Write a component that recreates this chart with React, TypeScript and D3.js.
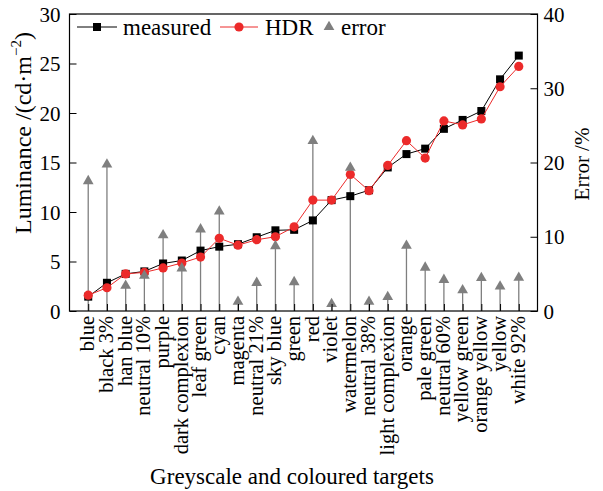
import { useEffect, useRef } from "react";
import * as d3 from "d3";

const categories = [
  "blue", "black 3%", "han blue", "neutral 10%", "purple", "dark complexion",
  "leaf green", "cyan", "magenta", "neutral 21%", "sky blue", "green", "red",
  "violet", "watermelon", "neutral 38%", "light complexion", "orange",
  "pale green", "neutral 60%", "yellow green", "orange yellow", "yellow", "white 92%",
];

const measured = [
  1.45, 2.85, 3.75, 4.0, 4.8, 5.1, 6.1, 6.5, 6.75, 7.45, 8.15, 8.2, 9.15,
  11.2, 11.6, 12.2, 14.5, 15.85, 16.4, 18.4, 19.3, 20.2, 23.4, 25.8,
];

const hdr = [
  1.6, 2.35, 3.75, 3.9, 4.35, 4.85, 5.45, 7.35, 6.65, 7.2, 7.5, 8.5, 11.2,
  11.2, 13.8, 12.15, 14.7, 17.2, 15.45, 19.2, 18.8, 19.4, 22.65, 24.7,
];

const errorPct = [
  17.5, 19.75, 3.4, 4.75, 10.2, 5.75, 11.0, 13.4, 1.25, 3.8, 8.75, 3.9, 22.9,
  0.95, 19.3, 1.25, 1.9, 8.8, 5.85, 4.2, 2.8, 4.45, 3.3, 4.5,
];

const leftTicks = [0, 5, 10, 15, 20, 25, 30];
const rightTicks = [0, 10, 20, 30, 40];

const FONT = "'Liberation Serif', 'Times New Roman', serif";
const RED = "#ec2a2a";
const GREY = "#7f7f7f";

export default function App() {
  const svgRef = useRef<SVGSVGElement>(null);

  useEffect(() => {
    if (!svgRef.current) return;
    const svg = d3.select(svgRef.current);
    svg.selectAll("*").remove();

    const left = 69.5, right = 537.5, top = 14, bottom = 311;

    const x = d3.scalePoint<string>().domain(categories).range([left, right]).padding(1);
    const yL = d3.scaleLinear().domain([0, 30]).range([bottom, top]);
    const yR = d3.scaleLinear().domain([0, 40]).range([bottom, top]);

    // error drop lines (behind everything)
    svg.append("g")
      .selectAll("line")
      .data(errorPct)
      .enter()
      .append("line")
      .attr("x1", (_, i) => x(categories[i])!)
      .attr("x2", (_, i) => x(categories[i])!)
      .attr("y1", bottom)
      .attr("y2", d => yR(d))
      .attr("stroke", GREY)
      .attr("stroke-width", 1.3);

    // measured
    const lineM = d3.line<number>()
      .x((_, i) => x(categories[i])!)
      .y(d => yL(d));
    svg.append("path")
      .datum(measured)
      .attr("fill", "none")
      .attr("stroke", "#000")
      .attr("stroke-width", 1)
      .attr("d", lineM);
    svg.append("g")
      .selectAll("rect")
      .data(measured)
      .enter()
      .append("rect")
      .attr("x", (_, i) => x(categories[i])! - 4)
      .attr("y", d => yL(d) - 4)
      .attr("width", 8)
      .attr("height", 8)
      .attr("fill", "#000");

    // HDR
    svg.append("path")
      .datum(hdr)
      .attr("fill", "none")
      .attr("stroke", RED)
      .attr("stroke-width", 1)
      .attr("d", lineM);
    svg.append("g")
      .selectAll("circle")
      .data(hdr)
      .enter()
      .append("circle")
      .attr("cx", (_, i) => x(categories[i])!)
      .attr("cy", d => yL(d))
      .attr("r", 4.6)
      .attr("fill", RED);

    // error triangles
    const tri = d3.symbol().type(d3.symbolTriangle).size(50);
    svg.append("g")
      .selectAll("path")
      .data(errorPct)
      .enter()
      .append("path")
      .attr("d", tri)
      .attr("transform", (d, i) => `translate(${x(categories[i])},${yR(d)})`)
      .attr("fill", GREY);

    // axes
    const axL = svg.append("g")
      .attr("transform", `translate(${left},0)`)
      .call(d3.axisLeft(yL).tickValues(leftTicks).tickSizeInner(-7).tickSizeOuter(0).tickPadding(9));
    const axR = svg.append("g")
      .attr("transform", `translate(${right},0)`)
      .call(d3.axisRight(yR).tickValues(rightTicks).tickSizeInner(-7).tickSizeOuter(0).tickPadding(6));
    const axB = svg.append("g")
      .attr("transform", `translate(0,${bottom})`)
      .call(d3.axisBottom(x).tickSizeInner(-7).tickSizeOuter(0).tickPadding(0));

    [axL, axR, axB].forEach(ax => {
      ax.select(".domain").remove();
      ax.selectAll("line").attr("stroke", "#000").attr("stroke-width", 1);
      ax.selectAll("text").attr("font-family", FONT).attr("font-size", 21).attr("fill", "#000");
    });
    axL.selectAll("text").attr("dy", "0.34em");
    axR.selectAll("text").attr("dy", "0.34em");
    axB.selectAll("text")
      .attr("font-size", 20.5)
      .attr("text-anchor", "end")
      .attr("transform", "translate(0,5) rotate(-90)")
      .attr("x", 0)
      .attr("y", 0)
      .attr("dy", "0.26em");

    // frame
    svg.append("rect")
      .attr("x", left)
      .attr("y", top)
      .attr("width", right - left)
      .attr("height", bottom - top)
      .attr("fill", "none")
      .attr("stroke", "#000")
      .attr("stroke-width", 1.2);

    // legend
    const lg = svg.append("g").attr("font-family", FONT).attr("font-size", 23);
    lg.append("line").attr("x1", 77).attr("x2", 117).attr("y1", 27).attr("y2", 27).attr("stroke", "#000");
    lg.append("rect").attr("x", 93).attr("y", 23).attr("width", 8).attr("height", 8).attr("fill", "#000");
    lg.append("text").attr("x", 123).attr("y", 35).text("measured");
    lg.append("line").attr("x1", 220).attr("x2", 258).attr("y1", 27).attr("y2", 27).attr("stroke", RED);
    lg.append("circle").attr("cx", 239).attr("cy", 27).attr("r", 4.6).attr("fill", RED);
    lg.append("text").attr("x", 265).attr("y", 35).text("HDR");
    lg.append("path").attr("d", tri).attr("transform", "translate(329,27)").attr("fill", GREY);
    lg.append("text").attr("x", 341).attr("y", 35).text("error");

    // axis titles
    svg.append("text")
      .attr("font-family", FONT)
      .attr("font-size", 23)
      .attr("text-anchor", "middle")
      .attr("x", 292)
      .attr("y", 484)
      .text("Greyscale and coloured targets");

    const tl = svg.append("text")
      .attr("font-family", FONT)
      .attr("font-size", 24)
      .attr("text-anchor", "middle")
      .attr("transform", "translate(31,133) rotate(-90)");
    tl.append("tspan").text("Luminance /(cd\u00b7m");
    tl.append("tspan").attr("font-size", 15).attr("dy", -10).text("\u22122");
    tl.append("tspan").attr("dy", 10).text(")");

    svg.append("text")
      .attr("font-family", FONT)
      .attr("font-size", 21)
      .attr("text-anchor", "middle")
      .attr("transform", "translate(589,164) rotate(-90)")
      .text("Error /%");
  }, []);

  return (
    <div style={{ position: "absolute", left: 0, top: 0 }}>
      <svg ref={svgRef} width={603} height={491} style={{ display: "block", background: "#fff" }} />
    </div>
  );
}
